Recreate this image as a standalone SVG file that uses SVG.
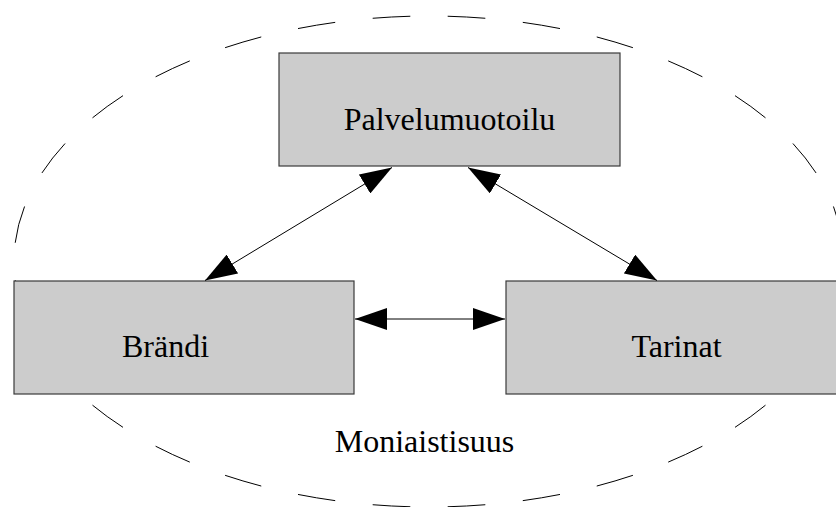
<svg xmlns="http://www.w3.org/2000/svg" width="836" height="507" viewBox="0 0 836 507">
  <style>
    .box { fill: #cccccc; stroke: #3a3a3a; stroke-width: 1.2; }
    .lbl { font-family: "Liberation Serif", "Times New Roman", serif; font-size: 32px; fill: #000; text-anchor: middle; }
    .conn { stroke: #000; stroke-width: 1; fill: none; marker-start: url(#ah); marker-end: url(#ah); }
    .ell { fill: none; stroke: #000; stroke-width: 1; stroke-dasharray: 38 38; stroke-dashoffset: 57; }
  </style>
  <defs>
    <marker id="ah" markerUnits="userSpaceOnUse" markerWidth="32" markerHeight="22" refX="32" refY="11" orient="auto-start-reverse" viewBox="0 0 32 22">
      <path d="M0,0 L32,11 L0,22 z" fill="#000"/>
    </marker>
  </defs>
  <rect width="836" height="507" fill="#fff"/>
  <g id="scope">
    <path class="ell" pathLength="2128" d="M429,16 A415,245.5 0 0 1 429,507 A415,245.5 0 0 1 429,16 Z"/>
    <text class="lbl" x="424.5" y="452">Moniaistisuus</text>
  </g>
  <g id="node-palvelumuotoilu">
    <rect class="box" x="279" y="53" width="341" height="113"/>
    <text class="lbl" x="449.5" y="130">Palvelumuotoilu</text>
  </g>
  <g id="node-brandi">
    <rect class="box" x="14" y="281" width="340" height="113"/>
    <text class="lbl" x="165.5" y="357">Brändi</text>
  </g>
  <g id="node-tarinat">
    <rect class="box" x="506" y="281" width="340" height="113"/>
    <text class="lbl" x="676.5" y="357">Tarinat</text>
  </g>
  <g id="connectors">
    <line class="conn" x1="392" y1="167.5" x2="205" y2="280.5"/>
    <line class="conn" x1="468" y1="167.5" x2="657" y2="280.5"/>
    <line class="conn" x1="355" y1="319" x2="505" y2="319"/>
  </g>
</svg>
